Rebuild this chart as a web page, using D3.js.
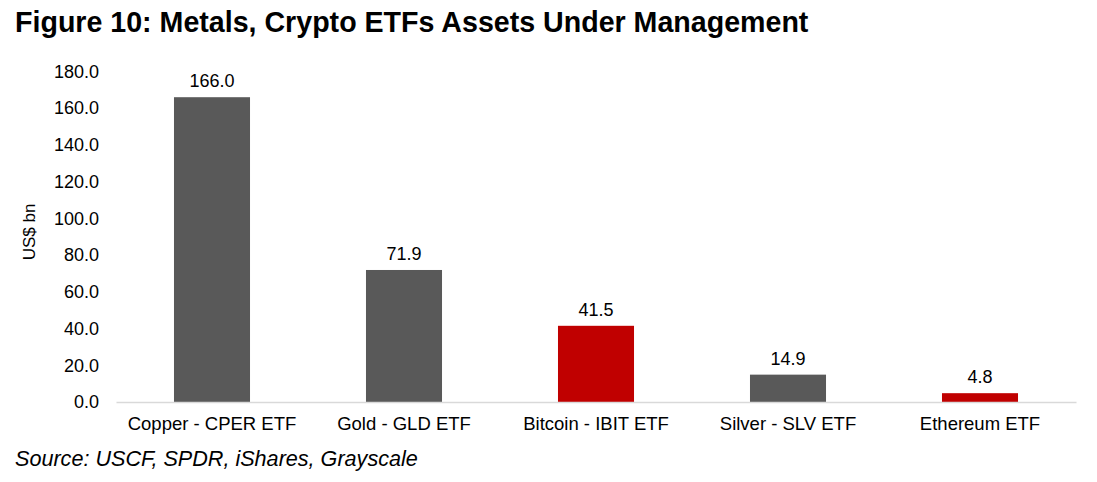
<!DOCTYPE html>
<html><head><meta charset="utf-8">
<script src="https://cdn.jsdelivr.net/npm/d3@7"></script>
<style>body{margin:0;background:#fff;}svg{display:block;font-family:"Liberation Sans",Arial,sans-serif;}</style>
</head><body>
<svg id="c" width="1097" height="482"></svg>
<script>
const categories = ["Copper - CPER ETF","Gold - GLD ETF","Bitcoin - IBIT ETF","Silver - SLV ETF","Ethereum ETF"];
const values = [166.0, 71.9, 41.5, 14.9, 4.8];
const isCrypto = [false, false, true, false, true];
const yTicks = [0,20,40,60,80,100,120,140,160,180];

(function(){
const svg = d3.select("#c");
const mLeft = 116, mRight = 1076, mTop = 71.5, mBottom = 402;
const x = d3.scaleBand().domain(categories).range([mLeft, mRight]).paddingInner(0.604).paddingOuter(0.302);
const y = d3.scaleLinear().domain([0,180]).range([mBottom, mTop]);

svg.append("text").attr("x",15).attr("y",32).attr("font-size",28.6).attr("font-weight","bold").attr("fill","#000")
  .text("Figure 10: Metals, Crypto ETFs Assets Under Management");

const ya = svg.append("g").attr("transform",`translate(${mLeft},0)`)
  .call(d3.axisLeft(y).tickValues(yTicks).tickFormat(d3.format(".1f")).tickSize(0).tickPadding(17));
ya.select(".domain").remove();
ya.selectAll("text").attr("font-size",18).attr("fill","#000").attr("font-family","Liberation Sans, Arial, sans-serif");

svg.selectAll("rect.bar").data(values).enter().append("rect")
  .attr("x",(d,i)=>x(categories[i])).attr("width",x.bandwidth())
  .attr("y",d=>y(d)).attr("height",d=>y(0)-y(d))
  .attr("fill",(d,i)=>isCrypto[i]?"#C00000":"#595959");

const xa = svg.append("g").attr("transform",`translate(0,${mBottom})`)
  .call(d3.axisBottom(x).tickSize(0).tickPadding(15));
xa.select(".domain").attr("stroke","#d9d9d9").attr("stroke-width",1.5);
xa.selectAll("text").attr("font-size",18.5).attr("fill","#000").attr("font-family","Liberation Sans, Arial, sans-serif");

svg.selectAll("text.val").data(values).enter().append("text")
  .attr("x",(d,i)=>x(categories[i])+x.bandwidth()/2).attr("y",d=>y(d)-10)
  .attr("text-anchor","middle").attr("font-size",18).attr("fill","#000")
  .text(d=>d3.format(".1f")(d));

svg.append("text").attr("transform",`translate(35,232) rotate(-90)`)
  .attr("text-anchor","middle").attr("font-size",17).attr("fill","#000").text("US$ bn");

svg.append("text").attr("x",15).attr("y",466).attr("font-size",21.6).attr("font-style","italic").attr("fill","#000")
  .text("Source: USCF, SPDR, iShares, Grayscale");
})();
</script>
</body></html>
